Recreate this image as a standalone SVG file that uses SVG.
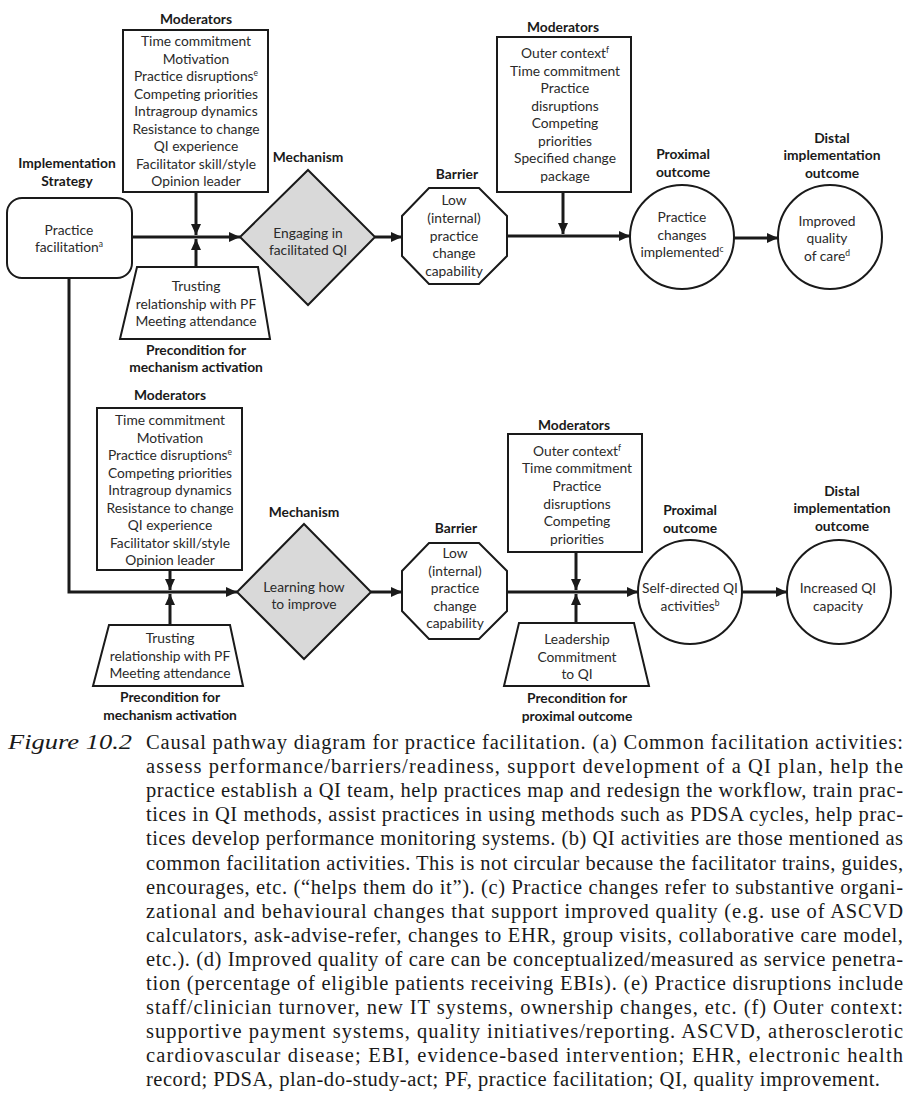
<svg xmlns="http://www.w3.org/2000/svg" width="912" height="1119" viewBox="0 0 912 1119">
<defs>
<marker id="ah" markerUnits="userSpaceOnUse" markerWidth="11" markerHeight="10" refX="11" refY="5" orient="auto">
<path d="M0,0 L11,5 L0,10 z" fill="#1a1a1a"/>
</marker>
<style>
.lbl{font-family:Lato,"Liberation Sans",sans-serif;font-size:13.8px;fill:#2a2a2a;text-anchor:middle}
.hd{font-family:Lato,"Liberation Sans",sans-serif;font-size:13.8px;font-weight:bold;fill:#1a1a1a;text-anchor:middle}
.shape{fill:#fff;stroke:#1a1a1a;stroke-width:2}
.mech{fill:#d9d9d9;stroke:#1a1a1a;stroke-width:2}
.arr{fill:none;stroke:#1a1a1a;stroke-width:3;marker-end:url(#ah)}
.cap{font-family:"Liberation Serif","Times New Roman",serif;font-size:20.5px;fill:#1a1a1a}
.sup{font-size:8.5px}
</style>
</defs>
<rect width="912" height="1119" fill="#fff"/>

<!-- ===== Top pathway ===== -->
<g id="strategy">
<text class="hd" x="67" y="168">Implementation</text>
<text class="hd" x="67" y="186">Strategy</text>
<rect class="shape" x="7" y="198" width="125" height="80" rx="15"/>
<text class="lbl" x="69" y="235">Practice</text>
<text class="lbl" x="69" y="252">facilitation<tspan class="sup" dy="-5">a</tspan></text>
</g>

<g id="moderators1">
<text class="hd" x="196" y="24">Moderators</text>
<rect class="shape" x="123" y="30" width="145" height="162"/>
<text class="lbl" x="196" y="46">Time commitment</text>
<text class="lbl" x="196" y="63.5">Motivation</text>
<text class="lbl" x="196" y="81">Practice disruptions<tspan class="sup" dy="-5">e</tspan></text>
<text class="lbl" x="196" y="98.5">Competing priorities</text>
<text class="lbl" x="196" y="116">Intragroup dynamics</text>
<text class="lbl" x="196" y="133.5">Resistance to change</text>
<text class="lbl" x="196" y="151">QI experience</text>
<text class="lbl" x="196" y="168.5">Facilitator skill/style</text>
<text class="lbl" x="196" y="186">Opinion leader</text>
</g>

<g id="precondition1">
<polygon class="shape" points="137,267 258,267 270,339 120,339"/>
<text class="lbl" x="196" y="291">Trusting</text>
<text class="lbl" x="196" y="309">relationship with PF</text>
<text class="lbl" x="196" y="326">Meeting attendance</text>
<text class="hd" x="196" y="355">Precondition for</text>
<text class="hd" x="196" y="372">mechanism activation</text>
</g>

<g id="mechanism1">
<text class="hd" x="308" y="162">Mechanism</text>
<polygon class="mech" points="308,170 375,237 308,305 240,237"/>
<text class="lbl" x="308" y="238">Engaging in</text>
<text class="lbl" x="308" y="255">facilitated QI</text>
</g>

<g id="barrier1">
<text class="hd" x="457" y="179">Barrier</text>
<polygon class="shape" points="429,188 479,188 507,216 507,256 479,284 429,284 402,256 402,216"/>
<text class="lbl" x="454" y="205">Low</text>
<text class="lbl" x="454" y="223">(internal)</text>
<text class="lbl" x="454" y="241">practice</text>
<text class="lbl" x="454" y="258">change</text>
<text class="lbl" x="454" y="276">capability</text>
</g>

<g id="moderators2">
<text class="hd" x="563" y="32">Moderators</text>
<rect class="shape" x="497" y="37" width="134" height="155"/>
<text class="lbl" x="565" y="58">Outer context<tspan class="sup" dy="-5">f</tspan></text>
<text class="lbl" x="565" y="75.5">Time commitment</text>
<text class="lbl" x="565" y="93">Practice</text>
<text class="lbl" x="565" y="110.5">disruptions</text>
<text class="lbl" x="565" y="128">Competing</text>
<text class="lbl" x="565" y="145.5">priorities</text>
<text class="lbl" x="565" y="163">Specified change</text>
<text class="lbl" x="565" y="180.5">package</text>
</g>

<g id="proximal1">
<text class="hd" x="683" y="159">Proximal</text>
<text class="hd" x="683" y="177">outcome</text>
<circle class="shape" cx="682" cy="237" r="52"/>
<text class="lbl" x="682" y="222">Practice</text>
<text class="lbl" x="682" y="240">changes</text>
<text class="lbl" x="682" y="257">implemented<tspan class="sup" dy="-5">c</tspan></text>
</g>

<g id="distal1">
<text class="hd" x="832" y="143">Distal</text>
<text class="hd" x="832" y="160">implementation</text>
<text class="hd" x="832" y="178">outcome</text>
<circle class="shape" cx="830" cy="237" r="52"/>
<text class="lbl" x="827" y="226">Improved</text>
<text class="lbl" x="827" y="243">quality</text>
<text class="lbl" x="827" y="261">of care<tspan class="sup" dy="-5">d</tspan></text>
</g>

<!-- ===== Bottom pathway ===== -->
<g id="moderators3">
<text class="hd" x="170" y="400">Moderators</text>
<rect class="shape" x="97" y="408" width="145" height="162"/>
<text class="lbl" x="170" y="425">Time commitment</text>
<text class="lbl" x="170" y="442.5">Motivation</text>
<text class="lbl" x="170" y="460">Practice disruptions<tspan class="sup" dy="-5">e</tspan></text>
<text class="lbl" x="170" y="477.5">Competing priorities</text>
<text class="lbl" x="170" y="495">Intragroup dynamics</text>
<text class="lbl" x="170" y="512.5">Resistance to change</text>
<text class="lbl" x="170" y="530">QI experience</text>
<text class="lbl" x="170" y="547.5">Facilitator skill/style</text>
<text class="lbl" x="170" y="565">Opinion leader</text>
</g>

<g id="precondition2">
<polygon class="shape" points="109,625 230,625 243,686 93,686"/>
<text class="lbl" x="170" y="643">Trusting</text>
<text class="lbl" x="170" y="661">relationship with PF</text>
<text class="lbl" x="170" y="678">Meeting attendance</text>
<text class="hd" x="170" y="702">Precondition for</text>
<text class="hd" x="170" y="720">mechanism activation</text>
</g>

<g id="mechanism2">
<text class="hd" x="304" y="517">Mechanism</text>
<polygon class="mech" points="304,524 371,592 304,659 237,592"/>
<text class="lbl" x="304" y="592">Learning how</text>
<text class="lbl" x="304" y="609">to improve</text>
</g>

<g id="barrier2">
<text class="hd" x="456" y="533">Barrier</text>
<polygon class="shape" points="429,543 479,543 507,571 507,611 479,639 429,639 402,611 402,571"/>
<text class="lbl" x="455" y="558">Low</text>
<text class="lbl" x="455" y="576">(internal)</text>
<text class="lbl" x="455" y="593">practice</text>
<text class="lbl" x="455" y="611">change</text>
<text class="lbl" x="455" y="628">capability</text>
</g>

<g id="moderators4">
<text class="hd" x="574" y="430">Moderators</text>
<rect class="shape" x="508" y="434" width="134" height="118"/>
<text class="lbl" x="577" y="456">Outer context<tspan class="sup" dy="-5">f</tspan></text>
<text class="lbl" x="577" y="473">Time commitment</text>
<text class="lbl" x="577" y="491">Practice</text>
<text class="lbl" x="577" y="509">disruptions</text>
<text class="lbl" x="577" y="526">Competing</text>
<text class="lbl" x="577" y="544">priorities</text>
</g>

<g id="precondition3">
<polygon class="shape" points="519,623 634,623 649,686 504,686"/>
<text class="lbl" x="577" y="644">Leadership</text>
<text class="lbl" x="577" y="662">Commitment</text>
<text class="lbl" x="577" y="679">to QI</text>
<text class="hd" x="577" y="703">Precondition for</text>
<text class="hd" x="577" y="721">proximal outcome</text>
</g>

<g id="proximal2">
<text class="hd" x="690" y="515">Proximal</text>
<text class="hd" x="690" y="533">outcome</text>
<circle class="shape" cx="690" cy="592" r="52"/>
<text class="lbl" x="690" y="593">Self-directed QI</text>
<text class="lbl" x="690" y="611">activities<tspan class="sup" dy="-5">b</tspan></text>
</g>

<g id="distal2">
<text class="hd" x="842" y="496">Distal</text>
<text class="hd" x="842" y="513">implementation</text>
<text class="hd" x="842" y="531">outcome</text>
<circle class="shape" cx="839" cy="592" r="52"/>
<text class="lbl" x="838" y="593">Increased QI</text>
<text class="lbl" x="838" y="611">capacity</text>
</g>

<!-- ===== Connectors ===== -->
<g id="connectors">
<path class="arr" d="M132,237 H240"/>
<path class="arr" d="M196,192 V235"/>
<path class="arr" d="M196,267 V239"/>
<path class="arr" d="M375,237 H402"/>
<path class="arr" d="M507,236 H630"/>
<path class="arr" d="M563,192 V234"/>
<path class="arr" d="M733,238 H778"/>
<path class="arr" d="M69,278 V592 H237"/>
<path class="arr" d="M170,570 V590"/>
<path class="arr" d="M170,625 V594"/>
<path class="arr" d="M371,592 H402"/>
<path class="arr" d="M507,592 H638"/>
<path class="arr" d="M576,552 V590"/>
<path class="arr" d="M576,623 V594"/>
<path class="arr" d="M742,592 H787"/>
</g>

<!-- ===== Caption ===== -->
<g id="caption">
<text class="cap" x="8" y="749" font-style="italic" textLength="124" lengthAdjust="spacingAndGlyphs">Figure 10.2</text>
<text class="cap" x="146" y="749" textLength="757" lengthAdjust="spacing">Causal pathway diagram for practice facilitation. (a) Common facilitation activities:</text>
<text class="cap" x="146" y="773.1" textLength="757" lengthAdjust="spacing">assess performance/barriers/readiness, support development of a QI plan, help the</text>
<text class="cap" x="146" y="797.2" textLength="757" lengthAdjust="spacing">practice establish a QI team, help practices map and redesign the workflow, train prac-</text>
<text class="cap" x="146" y="821.3" textLength="757" lengthAdjust="spacing">tices in QI methods, assist practices in using methods such as PDSA cycles, help prac-</text>
<text class="cap" x="146" y="845.4" textLength="757" lengthAdjust="spacing">tices develop performance monitoring systems. (b) QI activities are those mentioned as</text>
<text class="cap" x="146" y="869.5" textLength="757" lengthAdjust="spacing">common facilitation activities. This is not circular because the facilitator trains, guides,</text>
<text class="cap" x="146" y="893.6" textLength="757" lengthAdjust="spacing">encourages, etc. (“helps them do it”). (c) Practice changes refer to substantive organi-</text>
<text class="cap" x="146" y="917.7" textLength="757" lengthAdjust="spacing">zational and behavioural changes that support improved quality (e.g. use of ASCVD</text>
<text class="cap" x="146" y="941.8" textLength="757" lengthAdjust="spacing">calculators, ask-advise-refer, changes to EHR, group visits, collaborative care model,</text>
<text class="cap" x="146" y="965.9" textLength="757" lengthAdjust="spacing">etc.). (d) Improved quality of care can be conceptualized/measured as service penetra-</text>
<text class="cap" x="146" y="990" textLength="757" lengthAdjust="spacing">tion (percentage of eligible patients receiving EBIs). (e) Practice disruptions include</text>
<text class="cap" x="146" y="1014.1" textLength="757" lengthAdjust="spacing">staff/clinician turnover, new IT systems, ownership changes, etc. (f) Outer context:</text>
<text class="cap" x="146" y="1038.2" textLength="757" lengthAdjust="spacing">supportive payment systems, quality initiatives/reporting. ASCVD, atherosclerotic</text>
<text class="cap" x="146" y="1062.3" textLength="757" lengthAdjust="spacing">cardiovascular disease; EBI, evidence-based intervention; EHR, electronic health</text>
<text class="cap" x="146" y="1086.4" textLength="734" lengthAdjust="spacing">record; PDSA, plan-do-study-act; PF, practice facilitation; QI, quality improvement.</text>
</g>
</svg>
